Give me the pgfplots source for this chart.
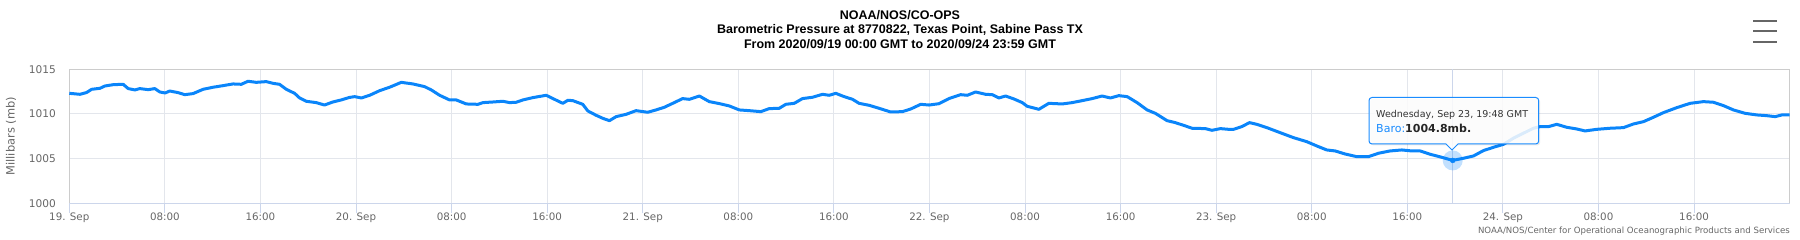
\documentclass[border=0pt]{standalone}
\usepackage{pgfplots}
\pgfplotsset{compat=1.18}
\usepackage{pgfplotstable}
\usepackage{fontspec}
\setmainfont{DejaVu Sans}
\newfontfamily\arialfont{Liberation Sans}
\definecolor{linec}{HTML}{0A85FA}
\definecolor{gridc}{HTML}{E3E6EC}
\definecolor{axisc}{HTML}{CCD6EB}
\definecolor{borderc}{HTML}{CCCCCC}
\definecolor{textc}{HTML}{666666}
\definecolor{tipc}{HTML}{1A8CFF}
\pgfplotstableread{
h p
0 1012.31
0.9 1012.2
1.45 1012.4
1.87 1012.76
2.56 1012.87
2.98 1013.13
3.68 1013.28
4.51 1013.32
4.93 1012.84
5.49 1012.69
5.9 1012.84
6.6 1012.72
7.16 1012.84
7.58 1012.46
8.02 1012.35
8.41 1012.57
9.1 1012.39
9.67 1012.16
10.36 1012.28
11.2 1012.76
12.03 1012.99
12.87 1013.17
13.7 1013.36
14.4 1013.32
14.96 1013.66
15.65 1013.54
16.49 1013.62
17.05 1013.43
17.6 1013.32
18.16 1012.76
18.86 1012.31
19.28 1011.79
19.83 1011.42
20.67 1011.27
21.36 1011.0
22.06 1011.34
22.76 1011.57
23.45 1011.85
23.89 1011.94
24.45 1011.79
25.14 1012.09
25.98 1012.61
26.81 1012.99
27.79 1013.54
28.76 1013.36
29.74 1013.06
30.3 1012.69
31.0 1012.09
31.83 1011.57
32.39 1011.57
33.23 1011.12
34.2 1011.08
34.62 1011.27
35.46 1011.34
36.29 1011.42
36.85 1011.27
37.41 1011.31
37.97 1011.57
38.8 1011.83
39.92 1012.09
40.61 1011.64
41.31 1011.19
41.73 1011.53
42.15 1011.49
42.98 1011.08
43.4 1010.34
44.1 1009.85
44.66 1009.51
45.21 1009.25
45.77 1009.7
46.61 1009.96
47.44 1010.37
48.42 1010.19
49.11 1010.45
49.81 1010.75
50.51 1011.19
51.34 1011.72
51.9 1011.64
52.74 1012.01
53.57 1011.38
54.41 1011.16
55.24 1010.9
56.08 1010.45
56.92 1010.37
57.89 1010.26
58.59 1010.6
59.42 1010.63
59.98 1011.08
60.68 1011.19
61.37 1011.72
62.21 1011.87
63.05 1012.2
63.61 1012.09
64.16 1012.31
64.86 1011.94
65.56 1011.64
66.11 1011.19
66.95 1010.97
67.79 1010.63
68.76 1010.22
69.74 1010.26
70.44 1010.56
71.27 1011.08
71.97 1011.0
72.8 1011.15
73.63 1011.72
74.61 1012.16
75.17 1012.09
75.86 1012.46
76.7 1012.2
77.26 1012.16
77.81 1011.79
78.37 1012.01
79.07 1011.68
79.77 1011.27
80.18 1010.86
81.16 1010.52
81.99 1011.19
83.11 1011.12
83.95 1011.27
84.78 1011.49
85.62 1011.72
86.45 1012.01
87.15 1011.79
87.85 1012.05
88.55 1011.94
89.38 1011.27
90.22 1010.45
90.91 1010.07
91.89 1009.25
92.58 1009.03
93.42 1008.66
93.98 1008.4
95.09 1008.36
95.65 1008.17
96.35 1008.36
97.04 1008.28
97.45 1008.28
98.14 1008.58
98.79 1009.03
99.4 1008.84
100.24 1008.47
101.35 1007.91
102.47 1007.35
103.58 1006.9
104.42 1006.42
105.26 1005.97
105.96 1005.86
106.79 1005.52
107.77 1005.22
108.75 1005.22
109.58 1005.6
110.56 1005.86
111.54 1005.97
112.37 1005.86
113.07 1005.86
113.91 1005.49
114.88 1005.15
115.8 1004.8
116.7 1005.04
117.54 1005.3
118.37 1005.9
119.21 1006.27
120.05 1006.6
120.9 1007.3
122.55 1008.4
123.11 1008.58
123.81 1008.58
124.51 1008.84
125.34 1008.51
126.18 1008.32
126.88 1008.1
127.86 1008.28
128.97 1008.4
130.09 1008.47
130.93 1008.88
131.77 1009.14
132.6 1009.63
133.44 1010.15
134.56 1010.71
135.67 1011.19
136.79 1011.38
137.63 1011.31
138.47 1010.93
139.3 1010.45
140.28 1010.07
141.26 1009.89
142.09 1009.81
142.79 1009.7
143.35 1009.89
144.0 1009.89
}\baro
\begin{document}
\begin{tikzpicture}[x=1pt,y=1pt]
\begin{axis}[
  at={(69.3pt,36.7pt)}, anchor=south west,
  width=1720.3pt, height=134pt, scale only axis,
  xmin=0, xmax=144, ymin=1000, ymax=1015,
  xtick={0,8,...,136},
  xticklabels={19. Sep,08:00,16:00,20. Sep,08:00,16:00,21. Sep,08:00,16:00,22. Sep,08:00,16:00,23. Sep,08:00,16:00,24. Sep,08:00,16:00},
  ytick={1000,1005,1010,1015},
  yticklabels={1000,1005,1010,1015},
  xtick pos=left, ytick pos=left,
  tick align=outside, major tick length=10pt,
  xtick style={draw=axisc, line width=1pt},
  ytick style={draw=none},
  grid=major, major grid style={draw=gridc, line width=1pt},
  axis line style={draw=borderc, line width=1pt},
  ticklabel style={text=textc},
  xticklabel style={font=\fontsize{10.3}{12}\selectfont, yshift=4pt},
  yticklabel style={font=\fontsize{10.6}{12}\selectfont, anchor=east, xshift=-0pt},
  clip=false,
]
\addplot[draw=axisc, line width=1pt, forget plot] coordinates {(115.8,1000) (115.8,1015)};
\addplot[draw=axisc, line width=1pt, forget plot] coordinates {(0,1000) (144,1000)};
\addplot[linec, line width=3pt, line join=round] table[x=h, y=p] {\baro};
\addplot[only marks, mark=*, mark size=10pt, mark options={fill=linec, fill opacity=0.25, draw opacity=0}] coordinates {(115.8,1004.8)};
\addplot[only marks, mark=*, mark size=2.5pt, mark options={fill=linec, draw=linec}] coordinates {(115.8,1004.8)};
\end{axis}
% titles
\node[font=\arialfont\bfseries\fontsize{12.5}{15}\selectfont] at (900,225) {NOAA/NOS/CO-OPS};
\node[font=\arialfont\bfseries\fontsize{12.5}{15}\selectfont] at (900,210) {Barometric Pressure at 8770822, Texas Point, Sabine Pass TX};
\node[font=\arialfont\bfseries\fontsize{12.5}{15}\selectfont] at (900,195.5) {From 2020/09/19 00:00 GMT to 2020/09/24 23:59 GMT};
% y label
\node[rotate=90, text=textc, font=\fontsize{11.4}{13}\selectfont] at (11,103.7) {Millibars (mb)};
% credits
\node[anchor=east, text=textc, font=\fontsize{8.6}{10}\selectfont, inner sep=0pt] at (1790,9) {NOAA/NOS/Center for Operational Oceanographic Products and Services};
% menu icon
\foreach \yy in {219,209,198} {\draw[textc, line width=2pt] (1753,\yy) -- (1777,\yy);}
% tooltip
\fill[black, opacity=0.08, rounded corners=3pt] (1370.5,94.5) rectangle (1540.2,141);
\draw[tipc, line width=1pt, fill=white, fill opacity=0.85, rounded corners=3pt]
  (1369,96) [sharp corners] -- (1446,96) -- (1452,90) -- (1458,96) [rounded corners=3pt] -- (1538.7,96) -- (1538.7,142.5) -- (1369,142.5) -- cycle;
\node[anchor=base west, inner sep=0pt, text=black!80, font=\fontsize{9.5}{11}\selectfont] at (1376,122.5) {Wednesday, Sep 23, 19:48 GMT};
\node[anchor=base west, inner sep=0pt, font=\fontsize{11}{13}\selectfont] at (1376,107.3) {\textcolor{tipc}{Baro:}\textcolor{black!85}{\bfseries 1004.8mb.}};
\pgfresetboundingbox
\useasboundingbox (0,0) rectangle (1800,240);
\end{tikzpicture}
\end{document}
